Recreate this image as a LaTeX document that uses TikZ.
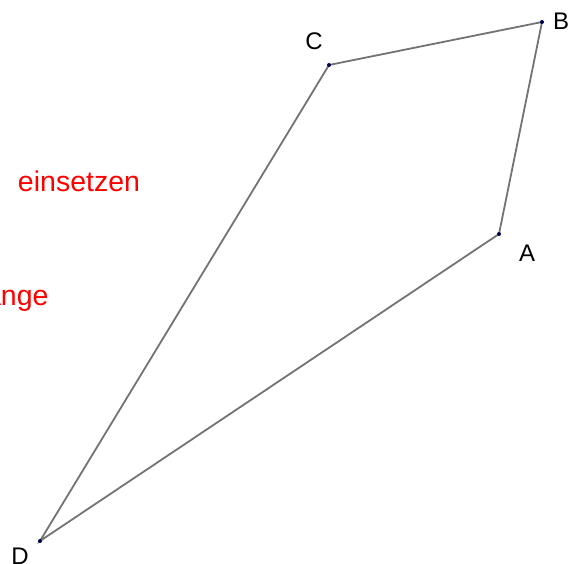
\documentclass[tikz,border=0pt]{standalone}
\usepackage{fontspec}
\setmainfont{Liberation Sans}
\begin{document}
\begin{tikzpicture}[x=1pt,y=-1pt,
  edge/.style={draw=black!55, line width=1.8pt},
  pt/.style={circle, fill=blue!30!black, inner sep=0pt, minimum size=4pt},
  lbl/.style={font=\fontsize{24}{28}\selectfont, text=black},
  red/.style={font=\fontsize{28.5}{32}\selectfont, text=red}]
\useasboundingbox (0,0) rectangle (573,564);
\coordinate (A) at (499,234);
\coordinate (B) at (542,22);
\coordinate (C) at (329,65);
\coordinate (D) at (40,541);
\draw[edge] (A) -- (B) -- (C) -- (D) -- cycle;
\foreach \p in {A,B,C,D} \node[pt] (p\p) at (\p) {};
\node[lbl] (lA) at (527,253) {A};
\node[lbl] (lB) at (561,21) {B};
\node[lbl] (lC) at (314,41) {C};
\node[lbl] (lD) at (20,556) {D};
\node[red] (t1) at (79,181) {einsetzen};
\node[red, anchor=east] (t2) at (52,301) {ange};
\end{tikzpicture}
\end{document}
